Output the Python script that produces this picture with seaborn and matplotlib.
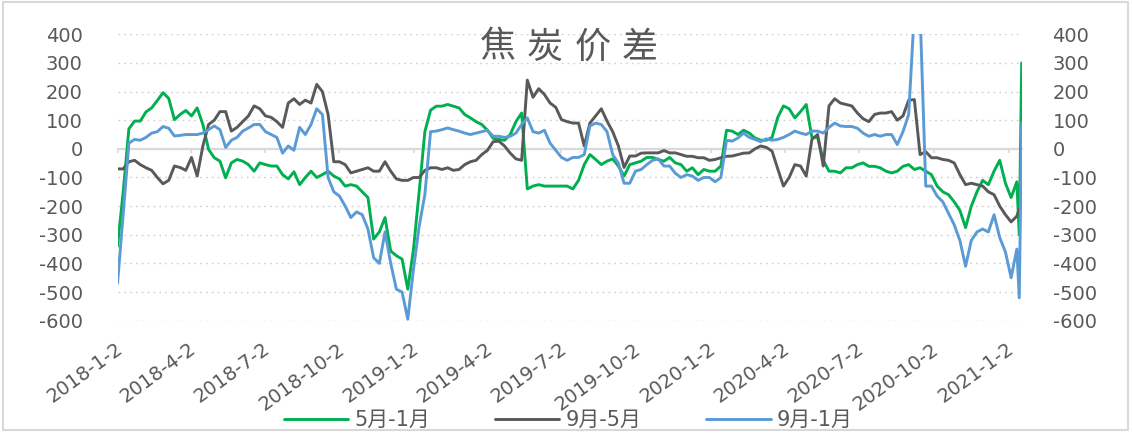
import numpy as np
import pandas as pd
import matplotlib.pyplot as plt
import matplotlib.transforms as mtransforms
from matplotlib.patches import Rectangle
import seaborn as sns

# weekly readings (plus two closing days)
dates = list(pd.date_range('2018-01-02', periods=159, freq='7D')) + \
    [pd.Timestamp('2021-01-15'), pd.Timestamp('2021-01-18')]

spread_5_1 = [
    -340, -150, 70, 97, 97, 129, 143, 169, 196, 176, 102, 120, 134, 115, 143, 85,
    -2, -31, -43, -101, -49, -37, -43, -55, -78, -49, -55, -60, -60, -90, -105, -80,
    -125, -100, -78, -100, -90, -78, -95, -105, -130, -125, -130, -150, -170, -315, -290, -240,
    -357, -373, -385, -490, -350, -150, 60, 135, 149, 149, 155, 149, 143, 120, 108, 95,
    85, 65, 37, 33, 30, 50, 95, 125, -140, -130, -125, -130, -130, -130, -130, -130,
    -140, -110, -55, -20, -37, -55, -43, -35, -60, -95, -55, -49, -43, -30, -30, -37,
    -43, -30, -49, -55, -78, -66, -90, -72, -78, -78, -60, 65, 62, 50, 65, 55,
    38, 30, 30, 40, 110, 150, 140, 108, 130, 155, 40, 40, -40, -78, -78, -84,
    -66, -66, -55, -49, -61, -61, -66, -78, -84, -78, -61, -55, -72, -66, -78, -90,
    -130, -150, -160, -185, -215, -275, -200, -150, -110, -125, -78, -40, -120, -170, -115,
    -300, 300,
]

spread_9_5 = [
    -70, -70, -45, -40, -55, -66, -75, -100, -122, -110, -60, -65, -75, -30, -95, 10,
    85, 100, 130, 130, 62, 75, 95, 115, 150, 140, 115, 110, 95, 75, 160, 175,
    155, 170, 160, 225, 200, 120, -45, -45, -55, -84, -78, -72, -66, -78, -78, -45,
    -78, -105, -110, -110, -100, -100, -75, -66, -66, -72, -66, -75, -72, -55, -45, -40,
    -20, -5, 25, 27, 10, -15, -35, -40, 240, 180, 210, 190, 160, 145, 102, 95,
    90, 90, 10, 90, 115, 140, 97, 60, 10, -65, -25, -25, -15, -14, -14, -14,
    -6, -14, -14, -20, -26, -26, -31, -31, -40, -37, -31, -26, -25, -20, -15, -14,
    0, 10, 5, -8, -70, -130, -100, -55, -60, -95, 33, 50, -60, 150, 175, 160,
    155, 150, 125, 105, 95, 120, 125, 125, 130, 100, 115, 170, 172, -20, -10, -31,
    -31, -37, -40, -49, -90, -125, -120, -125, -130, -150, -160, -200, -230, -255, -235,
    -210, -205,
]

spread_9_1 = [
    -470, -228, 20, 33, 30, 40, 55, 60, 78, 72, 45, 47, 50, 50, 50, 55,
    67, 80, 67, 5, 30, 40, 62, 73, 85, 85, 60, 50, 40, -15, 10, -5,
    75, 50, 85, 140, 120, -100, -150, -165, -200, -240, -220, -230, -280, -380, -400, -290,
    -400, -490, -500, -595, -420, -270, -160, 60, 62, 67, 73, 67, 62, 55, 50, 55,
    60, 65, 44, 44, 40, 44, 55, 85, 108, 60, 55, 65, 20, -5, -30, -40,
    -30, -30, -20, 80, 90, 85, 60, -20, -50, -120, -120, -78, -72, -55, -40, -35,
    -60, -60, -85, -100, -90, -95, -110, -100, -100, -115, -100, 30, 27, 38, 55, 40,
    33, 25, 35, 30, 33, 40, 50, 62, 55, 50, 62, 62, 55, 75, 90, 80,
    78, 78, 72, 55, 44, 50, 44, 50, 50, 15, 60, 120, 480, 480, -130, -130,
    -165, -185, -225, -265, -320, -410, -320, -290, -280, -290, -230, -310, -360, -450, -350,
    -520, 90,
]

series_names = ['5月-1月', '9月-5月', '9月-1月']
series_colors = ['#00b050', '#595959', '#5b9bd5']
tick_dates = [pd.Timestamp(y, m, 2) for y in range(2018, 2021) for m in (1, 4, 7, 10)] + \
    [pd.Timestamp(2021, 1, 2)]
tick_labels = [f'{d.year}-{d.month}-{d.day}' for d in tick_dates]
y_ticks = list(range(-600, 401, 100))
title = '焦炭价差'

df = pd.DataFrame({
    'date': dates * 3,
    'value': spread_5_1 + spread_9_5 + spread_9_1,
    'series': np.repeat(series_names, len(dates)),
})

sns.set_theme(style='white')
plt.rcParams['font.family'] = ['DejaVu Sans', 'Noto Sans CJK SC']
plt.rcParams['axes.unicode_minus'] = False
txt = '#595959'
grid = '#d9d9d9'

fig = plt.figure(figsize=(11.32, 4.38), dpi=100)
ax = fig.add_axes([0.1038, 0.2678, 0.799, 0.6539])

sns.lineplot(data=df, x='date', y='value', hue='series', hue_order=series_names,
             palette=series_colors, linewidth=2.1, ax=ax, legend=False)

ax.set_ylim(-600, 400)
ax.set_xlim(pd.Timestamp('2018-01-02'), pd.Timestamp('2021-01-18 08:00'))
ax.set_yticks(y_ticks)
ax.set_xlabel('')
ax.set_ylabel('')
for v in y_ticks:
    if v != 0:
        ax.axhline(v, color='#cfcfcf', lw=1.0, ls=(0, (1.2, 3.0)), zorder=0)
for s in ['top', 'right', 'left']:
    ax.spines[s].set_visible(False)
ax.spines['bottom'].set_position(('data', 0))
ax.spines['bottom'].set_color(grid)
ax.spines['bottom'].set_linewidth(1.6)
ax.spines['bottom'].set_zorder(0.5)
ax.set_xticks(tick_dates)
ax.tick_params(axis='x', labelbottom=False, length=3, width=1.2, color=grid,
               direction='out', bottom=True)
ax.tick_params(axis='y', length=0, pad=25, labelsize=14, labelcolor=txt)

# right-hand copy of the value axis
ax2 = ax.twinx()
ax2.set_ylim(-600, 400)
ax2.set_yticks(y_ticks)
for s in ax2.spines.values():
    s.set_visible(False)
ax2.tick_params(axis='y', length=0, pad=22, labelsize=14, labelcolor=txt)
ax2.grid(False)

# date labels at the bottom of the plot area
sec = ax.secondary_xaxis('bottom')
sec.set_xticks(tick_dates)
sec.set_xticklabels(tick_labels, rotation=36, ha='right', va='center',
                    rotation_mode='anchor', fontsize=14, color=txt)
sec.tick_params(axis='x', length=0, pad=19)
sec.spines['bottom'].set_visible(False)
shift = mtransforms.ScaledTranslation(0.03, 0, fig.dpi_scale_trans)
for lbl in sec.get_xticklabels():
    lbl.set_transform(lbl.get_transform() + shift)

# title sits inside the plot area, with wide character spacing
for i, ch in enumerate(title):
    fig.text((497.5 + 47.5 * i) / 1132, 1 - 47.5 / 438, ch, ha='center', va='center',
             fontsize=26, color=txt, family=['Noto Sans CJK SC', 'DejaVu Sans'])

handles = [plt.Line2D([], [], color=c, lw=2.1) for c in series_colors]
leg = fig.legend(handles, series_names, loc='center', bbox_to_anchor=(0.502, 0.041), ncol=3,
                 frameon=False, handlelength=3.1, handletextpad=0.3, columnspacing=3.1,
                 prop={'family': ['DejaVu Sans', 'Noto Sans CJK SC'], 'size': 15})
for t in leg.get_texts():
    t.set_color(txt)

fig.patches.append(Rectangle((3, 8), 1125, 428, transform=None, fill=False,
                             edgecolor=grid, lw=1.5))

fig.savefig('out.png', dpi=100)
